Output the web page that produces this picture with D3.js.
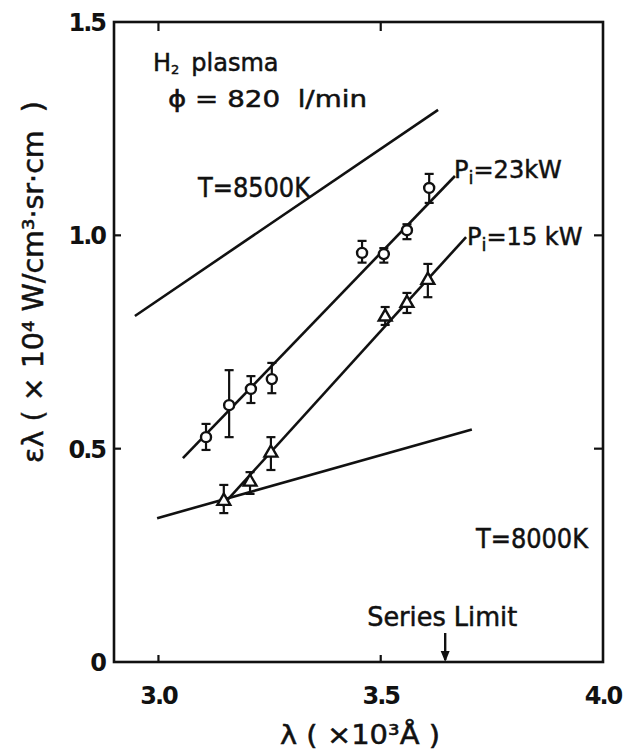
<!DOCTYPE html>
<html>
<head>
<meta charset="utf-8">
<script src="https://cdn.jsdelivr.net/npm/d3@7"></script>
<style>
  html, body { margin: 0; padding: 0; background: #fff; }
  svg { display: block; }
  text { font-family: "DejaVu Sans", sans-serif; fill: #111; }
  .ann { stroke: #111; stroke-width: 0.5px; }
</style>
</head>
<body>
<svg id="chart" width="630" height="755"></svg>
<script>
// Emission coefficient of the H2 plasma vs wavelength
const wavelengths23 = [3.107, 3.159, 3.208, 3.255, 3.458, 3.507, 3.559, 3.609];
const emission23    = [0.527, 0.602, 0.640, 0.663, 0.959, 0.956, 1.012, 1.111];
const errLow23      = [0.497, 0.527, 0.607, 0.630, 0.936, 0.936, 0.991, 1.076];
const errHigh23     = [0.558, 0.684, 0.670, 0.701, 0.987, 0.970, 1.026, 1.144];

const wavelengths15 = [3.147, 3.206, 3.253, 3.510, 3.559, 3.606];
const emission15    = [0.377, 0.422, 0.490, 0.809, 0.841, 0.895];
const errLow15      = [0.349, 0.394, 0.450, 0.790, 0.818, 0.855];
const errHigh15     = [0.415, 0.445, 0.527, 0.832, 0.865, 0.933];

// straight fits and theoretical curves: [lambda, epsilon] end points
const fit23    = [[3.055, 0.478], [3.667, 1.139]];
const fit15    = [[3.143, 0.366], [3.692, 0.996]];
const temp8000 = [[2.997, 0.337], [3.705, 0.545]];
const temp8500 = [[2.947, 0.811], [3.629, 1.294]];

const seriesLimit = 3.645;

const xTickValues = [3.0, 3.5, 4.0];
const xTickLabels = ["3.0", "3.5", "4.0"];
const yTickValues = [0, 0.5, 1.0, 1.5];
const yTickLabels = ["0", "0.5", "1.0", "1.5"];

const svg = d3.select("#chart");
const x = d3.scaleLinear().domain([2.9, 4.0]).range([114, 603]);
const y = d3.scaleLinear().domain([0, 1.5]).range([662, 22]);

const ink = "#111";
const sw = 2.6;

// frame
svg.append("rect")
  .attr("x", x(2.9)).attr("y", y(1.5))
  .attr("width", x(4.0) - x(2.9)).attr("height", y(0) - y(1.5))
  .attr("fill", "none").attr("stroke", ink).attr("stroke-width", sw);

// inner ticks on all four sides
const tickLen = 7;
[3.0, 3.5].forEach(v => {
  svg.append("line").attr("x1", x(v)).attr("x2", x(v)).attr("y1", y(0)).attr("y2", y(0) - tickLen)
    .attr("stroke", ink).attr("stroke-width", 2.2);
  svg.append("line").attr("x1", x(v)).attr("x2", x(v)).attr("y1", y(1.5)).attr("y2", y(1.5) + tickLen + 2)
    .attr("stroke", ink).attr("stroke-width", 2.2);
});
[0.5, 1.0].forEach(v => {
  svg.append("line").attr("x1", x(2.9)).attr("x2", x(2.9) + tickLen).attr("y1", y(v)).attr("y2", y(v))
    .attr("stroke", ink).attr("stroke-width", 2.2);
  svg.append("line").attr("x1", x(4.0)).attr("x2", x(4.0) - tickLen - 2).attr("y1", y(v)).attr("y2", y(v))
    .attr("stroke", ink).attr("stroke-width", 2.2);
});

// tick labels
svg.selectAll(".xlab").data(xTickValues).enter().append("text")
  .attr("x", d => x(d)).attr("y", 704)
  .attr("text-anchor", "middle").attr("font-size", 24).attr("font-weight", "bold")
  .attr("letter-spacing", -2)
  .text((d, i) => xTickLabels[i]);

svg.selectAll(".ylab").data(yTickValues).enter().append("text")
  .attr("x", 105).attr("y", d => y(d) + 9)
  .attr("text-anchor", "end").attr("font-size", 24).attr("font-weight", "bold")
  .attr("letter-spacing", -2)
  .text((d, i) => yTickLabels[i]);

// axis titles
svg.append("text").attr("class", "ann")
  .attr("x", 360).attr("y", 744)
  .attr("text-anchor", "middle").attr("font-size", 27)
  .attr("textLength", 160).attr("lengthAdjust", "spacingAndGlyphs")
  .text("λ ( ×10³Å )");

svg.append("text").attr("class", "ann")
  .attr("transform", "translate(43,282) rotate(-90)")
  .attr("text-anchor", "middle").attr("font-size", 28)
  .attr("textLength", 362).attr("lengthAdjust", "spacingAndGlyphs")
  .text("ελ ( × 10⁴ W/cm³·sr·cm\u00a0\u00a0)");

// lines
const line = d3.line().x(d => x(d[0])).y(d => y(d[1]));
[fit23, fit15, temp8000, temp8500].forEach(seg => {
  svg.append("path").attr("d", line(seg))
    .attr("fill", "none").attr("stroke", ink).attr("stroke-width", sw);
});

// error bars
function errorBars(xs, lo, hi) {
  const g = svg.append("g").attr("stroke", ink).attr("stroke-width", 2.2);
  xs.forEach((xv, i) => {
    g.append("line").attr("x1", x(xv)).attr("x2", x(xv)).attr("y1", y(lo[i])).attr("y2", y(hi[i]));
    [lo[i], hi[i]].forEach(v => {
      g.append("line").attr("x1", x(xv) - 4.5).attr("x2", x(xv) + 4.5).attr("y1", y(v)).attr("y2", y(v));
    });
  });
}
errorBars(wavelengths23, errLow23, errHigh23);
errorBars(wavelengths15, errLow15, errHigh15);

// circles (23 kW)
svg.selectAll(".c23").data(wavelengths23).enter().append("circle")
  .attr("cx", d => x(d)).attr("cy", (d, i) => y(emission23[i])).attr("r", 5)
  .attr("fill", "#fff").attr("stroke", ink).attr("stroke-width", 2.4);

// triangles (15 kW)
const tri = d3.symbol().type(d3.symbolTriangle).size(72);
svg.selectAll(".t15").data(wavelengths15).enter().append("path")
  .attr("d", tri)
  .attr("transform", (d, i) => `translate(${x(d)},${y(emission15[i])})`)
  .attr("fill", "#fff").attr("stroke", ink).attr("stroke-width", 2.4);

// annotations
svg.append("text").attr("class", "ann").attr("x", 153).attr("y", 71).attr("font-size", 24)
  .html('H<tspan font-size="13" dy="3">2</tspan><tspan dy="-3" dx="12">plasma</tspan>');
svg.append("text").attr("class", "ann").attr("x", 168).attr("y", 107).attr("font-size", 23)
  .attr("textLength", 199).attr("lengthAdjust", "spacingAndGlyphs")
  .text("ϕ = 820\u00a0\u00a0l/min");

svg.append("text").attr("class", "ann").attr("x", 198).attr("y", 197).attr("font-size", 26)
  .attr("textLength", 112).attr("lengthAdjust", "spacingAndGlyphs")
  .text("T=8500K");
svg.append("text").attr("class", "ann").attr("x", 476).attr("y", 548).attr("font-size", 26)
  .attr("textLength", 112).attr("lengthAdjust", "spacingAndGlyphs")
  .text("T=8000K");

svg.append("text").attr("class", "ann").attr("x", 454).attr("y", 178).attr("font-size", 24)
  .html('P<tspan font-size="18" dy="6">i</tspan><tspan dy="-6">=23kW</tspan>');
svg.append("text").attr("class", "ann").attr("x", 467).attr("y", 245).attr("font-size", 24)
  .html('P<tspan font-size="18" dy="6">i</tspan><tspan dy="-6">=15 kW</tspan>');

// series limit marker
svg.append("text").attr("class", "ann").attr("x", x(seriesLimit) - 3).attr("y", 626)
  .attr("text-anchor", "middle").attr("font-size", 26)
  .attr("textLength", 150).attr("lengthAdjust", "spacingAndGlyphs")
  .text("Series Limit");
svg.append("line").attr("x1", x(seriesLimit)).attr("x2", x(seriesLimit))
  .attr("y1", 633).attr("y2", y(0) - 2)
  .attr("stroke", ink).attr("stroke-width", 2.4);
svg.append("path")
  .attr("d", `M${x(seriesLimit) - 4.5},${y(0) - 11} L${x(seriesLimit) + 4.5},${y(0) - 11} L${x(seriesLimit)},${y(0)} Z`)
  .attr("fill", ink);
</script>
</body>
</html>
